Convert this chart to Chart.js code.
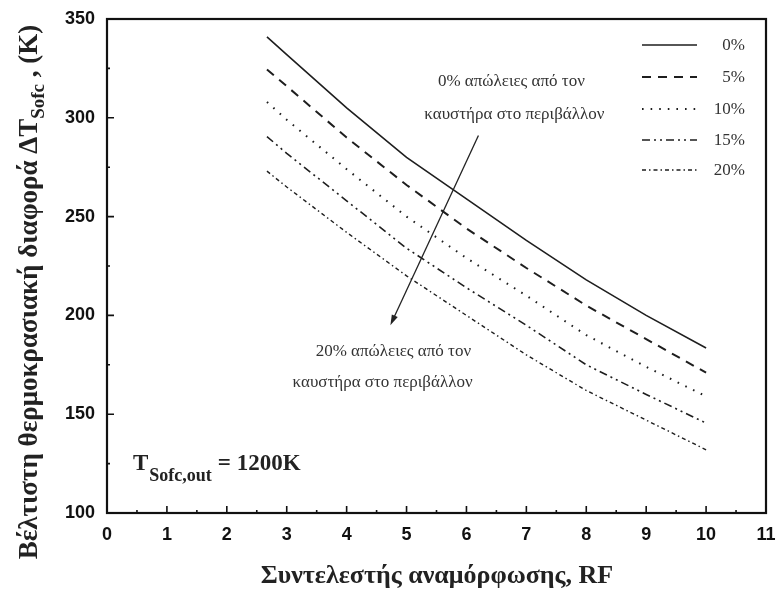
<!DOCTYPE html>
<html>
<head>
<meta charset="utf-8">
<script src="https://cdn.jsdelivr.net/npm/chart.js@4.4.1/dist/chart.umd.min.js"></script>
<style>
  html, body { margin: 0; padding: 0; background: #fff; }
  #wrap { width: 776px; height: 592px; }
</style>
</head>
<body>
<div id="wrap"><canvas id="chart"></canvas></div>
<script>
"use strict";

// reforming factor RF (x) and optimum SOFC temperature difference (K) per heat-loss level
const rfValues = [2.67, 3, 4, 5, 6, 7, 8, 9, 10];
const loss0 = [341, 332, 305, 280, 259, 238, 218, 200, 183.5];
const loss5 = [324.5, 316, 290, 266, 244, 224, 205, 188, 171];
const loss10 = [308, 299, 274, 250, 229, 210, 190, 174, 159];
const loss15 = [290.5, 282, 258, 234, 214, 195, 175, 160, 145.5];
const loss20 = [273, 265, 242, 220, 200, 180, 162, 147, 132];

const seriesLabels = ["0%", "5%", "10%", "15%", "20%"];
const xTicks = [0, 1, 2, 3, 4, 5, 6, 7, 8, 9, 10, 11];
const yTicks = [100, 150, 200, 250, 300, 350];

const SERIF = "'Liberation Serif', 'DejaVu Serif', serif";
const SANS = "'Liberation Sans', Arial, sans-serif";
const INK = "#1e1e1e";

function toPoints(values) {
  return rfValues.map((x, i) => ({ x: x, y: values[i] }));
}

const lineStyles = [
  { dash: [], width: 1.6 },
  { dash: [9, 7], width: 2 },
  { dash: [1.6, 7], width: 2 },
  { dash: [8, 4, 2, 4, 2, 4], width: 1.6 },
  { dash: [4, 3, 1.5, 3], width: 1.4 },
];

const datasets = [loss0, loss5, loss10, loss15, loss20].map((values, i) => ({
  label: seriesLabels[i],
  data: toPoints(values),
  borderColor: INK,
  borderWidth: lineStyles[i].width,
  borderDash: lineStyles[i].dash,
  pointRadius: 0,
  fill: false,
  tension: 0,
}));

/**
 * Frame, inward ticks, legend, annotations and axis titles.
 */
const decorPlugin = {
  id: "decor",
  afterDraw(chart) {
    const ctx = chart.ctx;
    const area = chart.chartArea;
    const xs = chart.scales.x;
    const ys = chart.scales.y;

    ctx.save();

    // frame
    ctx.strokeStyle = "#111";
    ctx.lineWidth = 2.2;
    ctx.setLineDash([]);
    ctx.strokeRect(area.left, area.top, area.right - area.left, area.bottom - area.top);

    // inward ticks
    ctx.lineWidth = 1.6;
    ctx.beginPath();
    for (let v = 0; v <= 11; v += 0.5) {
      const px = xs.getPixelForValue(v);
      const len = Number.isInteger(v) ? 7 : 3;
      ctx.moveTo(px, area.bottom);
      ctx.lineTo(px, area.bottom - len);
    }
    for (let v = 100; v <= 350; v += 25) {
      const py = ys.getPixelForValue(v);
      const len = v % 50 === 0 ? 7 : 3;
      ctx.moveTo(area.left, py);
      ctx.lineTo(area.left + len, py);
    }
    ctx.stroke();

    // legend
    const rowY = [45, 77, 109, 140, 170];
    chart.data.datasets.forEach((ds, i) => {
      const y = rowY[i];
      ctx.strokeStyle = ds.borderColor;
      ctx.lineWidth = ds.borderWidth;
      ctx.setLineDash(ds.borderDash);
      ctx.beginPath();
      ctx.moveTo(area.right - 124, y);
      ctx.lineTo(area.right - 69, y);
      ctx.stroke();
      ctx.setLineDash([]);
      ctx.fillStyle = "#333";
      ctx.font = "17px " + SERIF;
      ctx.textAlign = "right";
      ctx.textBaseline = "middle";
      ctx.fillText(ds.label, area.right - 21, y + 1);
    });

    // annotations
    ctx.fillStyle = "#333";
    ctx.font = "17px " + SERIF;
    ctx.textAlign = "center";
    ctx.textBaseline = "middle";
    ctx.fillText("0% απώλειες από τον", xs.getPixelForValue(6.75), 82);
    ctx.fillText("καυστήρα στο περιβάλλον", xs.getPixelForValue(6.8), 115);
    ctx.fillText("20% απώλειες από τον", xs.getPixelForValue(4.78), 352);
    ctx.fillText("καυστήρα στο περιβάλλον", xs.getPixelForValue(4.6), 383);

    // arrow
    const ax0 = xs.getPixelForValue(6.2), ay0 = ys.getPixelForValue(291);
    const ax1 = xs.getPixelForValue(4.73), ay1 = ys.getPixelForValue(195);
    const ang = Math.atan2(ay1 - ay0, ax1 - ax0);
    ctx.strokeStyle = "#222";
    ctx.lineWidth = 1.3;
    ctx.beginPath();
    ctx.moveTo(ax0, ay0);
    ctx.lineTo(ax1 - Math.cos(ang) * 6, ay1 - Math.sin(ang) * 6);
    ctx.stroke();
    ctx.fillStyle = "#222";
    ctx.beginPath();
    ctx.moveTo(ax1, ay1);
    ctx.lineTo(ax1 - Math.cos(ang - 0.3) * 11, ay1 - Math.sin(ang - 0.3) * 11);
    ctx.lineTo(ax1 - Math.cos(ang + 0.3) * 11, ay1 - Math.sin(ang + 0.3) * 11);
    ctx.closePath();
    ctx.fill();

    // T_Sofc,out = 1200K
    ctx.fillStyle = "#222";
    ctx.textAlign = "left";
    ctx.textBaseline = "alphabetic";
    let tx = area.left + 26;
    ctx.font = "bold 23px " + SERIF;
    ctx.fillText("T", tx, 470);
    tx += ctx.measureText("T").width + 1;
    ctx.font = "bold 18px " + SERIF;
    ctx.fillText("Sofc,out", tx, 481);
    tx += ctx.measureText("Sofc,out").width + 6;
    ctx.font = "bold 23px " + SERIF;
    ctx.fillText("= 1200K", tx, 470);

    // x axis title
    ctx.fillStyle = "#222";
    ctx.font = "bold 26px " + SERIF;
    ctx.textAlign = "center";
    ctx.textBaseline = "middle";
    ctx.fillText("Συντελεστής αναμόρφωσης, RF", 437, 576);

    // y axis title with subscript
    const parts = [
      { t: "Βέλτιστη θερμοκρασιακή διαφορά ΔT", f: "bold 27px " + SERIF, dy: 0 },
      { t: "Sofc", f: "bold 19px " + SERIF, dy: 7 },
      { t: " , (K)", f: "bold 27px " + SERIF, dy: 0 },
    ];
    let total = 0;
    parts.forEach((p) => {
      ctx.font = p.f;
      p.w = ctx.measureText(p.t).width;
      total += p.w;
    });
    ctx.translate(37, 292);
    ctx.rotate(-Math.PI / 2);
    ctx.textAlign = "left";
    ctx.textBaseline = "alphabetic";
    let lx = -total / 2;
    parts.forEach((p) => {
      ctx.font = p.f;
      ctx.fillText(p.t, lx, p.dy);
      lx += p.w;
    });

    ctx.restore();
  },
};

const ctx = document.getElementById("chart").getContext("2d");

new Chart(ctx, {
  type: "line",
  data: { datasets: datasets },
  plugins: [decorPlugin],
  options: {
    responsive: true,
    maintainAspectRatio: false,
    animation: false,
    layout: { padding: { left: 0, right: 10, top: 19, bottom: 0 } },
    plugins: {
      legend: { display: false },
      tooltip: { enabled: false },
    },
    scales: {
      x: {
        type: "linear",
        min: 0,
        max: 11,
        afterFit: (scale) => {
          scale.height = 79;
          scale.paddingLeft = 0;
          scale.paddingRight = 0;
        },
        afterBuildTicks: (scale) => {
          scale.ticks = xTicks.map((v) => ({ value: v }));
        },
        grid: { display: false, drawTicks: false },
        border: { display: false },
        ticks: {
          padding: 11,
          color: "#111",
          font: { family: SANS, size: 18, weight: "bold" },
        },
      },
      y: {
        type: "linear",
        min: 100,
        max: 350,
        afterFit: (scale) => {
          scale.width = 107;
          scale.paddingTop = 0;
          scale.paddingBottom = 0;
        },
        afterBuildTicks: (scale) => {
          scale.ticks = yTicks.map((v) => ({ value: v }));
        },
        grid: { display: false, drawTicks: false },
        border: { display: false },
        ticks: {
          padding: 12,
          color: "#111",
          font: { family: SANS, size: 18, weight: "bold" },
        },
      },
    },
  },
});
</script>
</body>
</html>
